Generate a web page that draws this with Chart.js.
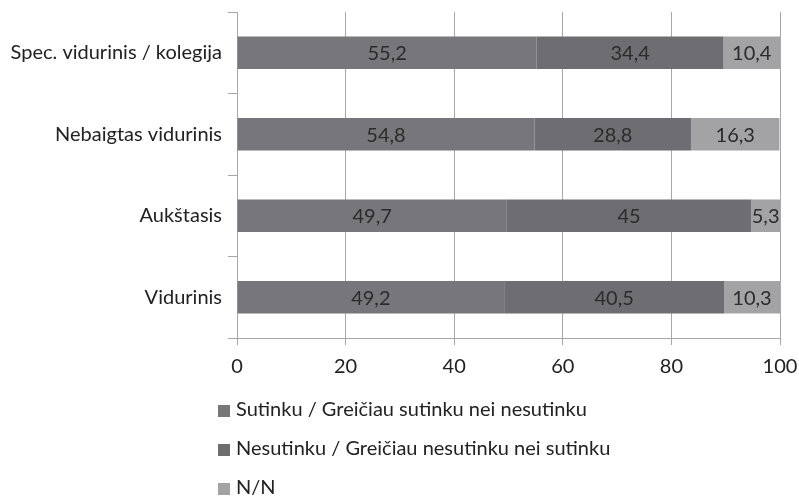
<!DOCTYPE html>
<html>
<head>
<meta charset="utf-8">
<script src="https://cdn.jsdelivr.net/npm/chart.js@4"></script>
<style>
html,body{margin:0;padding:0;background:#fff;}
#wrap{width:799px;height:496px;position:relative;}
</style>
</head>
<body>
<div id="wrap"><canvas id="c" width="799" height="496"></canvas></div>
<script>
const categories = ["Spec. vidurinis / kolegija", "Nebaigtas vidurinis", "Aukštasis", "Vidurinis"];
const seriesNames = ["Sutinku / Greičiau sutinku nei nesutinku", "Nesutinku / Greičiau nesutinku nei sutinku", "N/N"];
const agree = [55.2, 54.8, 49.7, 49.2];
const disagree = [34.4, 28.8, 45, 40.5];
const noAnswer = [10.4, 16.3, 5.3, 10.3];
const xTicks = [0, 20, 40, 60, 80, 100];

const colors = ["#77777b", "#6e6e72", "#a3a3a5"];
const FONT = "Lato, 'Open Sans', sans-serif";
const FS = 20;

const valueLabels = {
  id: 'valueLabels',
  afterDatasetsDraw(chart) {
    const ctx = chart.ctx;
    ctx.save();
    ctx.font = FS + "px " + FONT;
    ctx.fillStyle = "#2b2b2b";
    ctx.textAlign = "center";
    ctx.textBaseline = "middle";
    chart.data.datasets.forEach((ds, di) => {
      const meta = chart.getDatasetMeta(di);
      meta.data.forEach((bar, i) => {
        const v = ds.data[i];
        const cx = (bar.x + bar.base) / 2;
        ctx.fillText(String(v).replace('.', ','), cx, bar.y + 1);
      });
    });
    ctx.restore();
  }
};

const vertLegend = {
  id: 'vertLegend',
  afterDraw(chart) {
    const ctx = chart.ctx;
    ctx.save();
    ctx.font = FS + "px " + FONT;
    ctx.textAlign = "left";
    ctx.textBaseline = "middle";
    const rows = [410, 449, 488];
    chart.data.datasets.forEach((ds, di) => {
      const y = rows[di];
      ctx.fillStyle = ds.backgroundColor;
      ctx.fillRect(218, y - 5, 12, 12);
      ctx.fillStyle = "#222";
      ctx.fillText(ds.label, 236, y);
    });
    ctx.restore();
  }
};

new Chart(document.getElementById('c'), {
  type: 'bar',
  data: {
    labels: categories,
    datasets: [
      { label: seriesNames[0], data: agree, backgroundColor: colors[0] },
      { label: seriesNames[1], data: disagree, backgroundColor: colors[1] },
      { label: seriesNames[2], data: noAnswer, backgroundColor: colors[2] }
    ]
  },
  options: {
    indexAxis: 'y',
    responsive: false,
    animation: false,
    devicePixelRatio: 1,
    barPercentage: 0.8,
    categoryPercentage: 0.5,
    layout: { padding: { left: 0, right: 19, top: 12, bottom: 107 } },
    plugins: {
      legend: { display: false },
      tooltip: { enabled: false }
    },
    scales: {
      x: {
        stacked: true,
        min: 0, max: 100,
        afterBuildTicks(scale) { scale.ticks = xTicks.map(v => ({ value: v })); },
        afterFit(scale) { scale.paddingLeft = 0; scale.paddingRight = 0; },
        grid: { color: "#a8a8aa", lineWidth: 1, tickLength: 7, drawTicks: true },
        border: { display: true, color: "#a8a8aa" },
        ticks: { font: { size: FS, family: FONT }, color: "#222", padding: 10 }
      },
      y: {
        stacked: true,
        afterFit(scale) { scale.width = 237; scale.paddingTop = 0; scale.paddingBottom = 0; },
        grid: { drawOnChartArea: false, color: "#a8a8aa", tickLength: 9, offset: true },
        border: { display: true, color: "#a8a8aa" },
        ticks: { font: { size: FS, family: FONT }, color: "#222", padding: 6 }
      }
    }
  },
  plugins: [valueLabels, vertLegend]
});
</script>
</body>
</html>
